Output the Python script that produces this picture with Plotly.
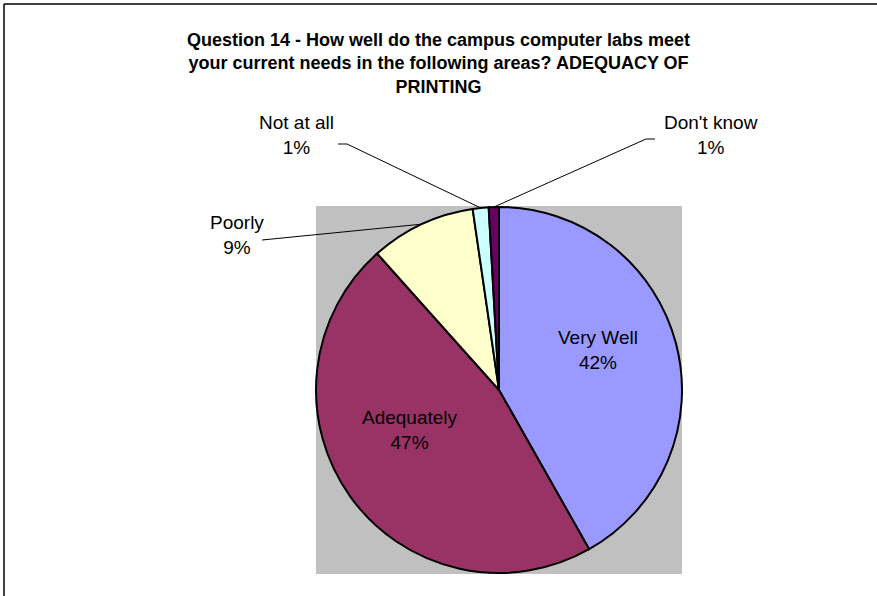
import math
import plotly.graph_objects as go

# survey answers (percent of respondents), clockwise from 12 o'clock
answers = ["Very Well", "Adequately", "Poorly", "Not at all", "Don't know"]
shares = [41.8, 46.6, 9.3, 1.4, 0.9]
colors = ["#9999FF", "#993366", "#FFFFCC", "#CCFFFF", "#660066"]

title_lines = [
    "Question 14 - How well do the campus computer labs meet",
    "your current needs in the following areas? ADEQUACY OF",
    "PRINTING",
]

W, H = 877, 596
FONT = "Liberation Sans, Arial, sans-serif"

# plot area (pixels)
px0, px1, py0, py1 = 316, 682, 206, 574


def fx(x):
    return x / W


def fy(y):
    return 1 - y / H


fig = go.Figure(go.Pie(
    labels=answers,
    values=shares,
    sort=False,
    direction="clockwise",
    rotation=0,
    marker=dict(colors=colors, line=dict(color="black", width=2)),
    textinfo="none",
    domain=dict(x=[fx(px0), fx(px1)], y=[fy(py1), fy(py0)]),
    showlegend=False,
    hoverinfo="label+percent",
))

# label placement (pixels): text centre, and for the small slices a leader line start + elbow
label_pos = {
    "Very Well": dict(text=(598, 350)),
    "Adequately": dict(text=(410, 430)),
    "Poorly": dict(text=(237, 235), start=(262, 240), elbow=(262, 240)),
    "Not at all": dict(text=(296, 135), start=(338, 144), elbow=(347, 144)),
    "Don't know": dict(text=(711, 135), start=(655, 139), elbow=(646, 139)),
}

cx, cy = (px0 + px1) / 2, (py0 + py1) / 2
r = min(px1 - px0, py1 - py0) / 2
total = sum(shares)

shapes = [
    # grey plot area
    dict(type="rect", xref="paper", yref="paper", x0=fx(px0), x1=fx(px1),
         y0=fy(py1), y1=fy(py0), fillcolor="#C0C0C0", line=dict(width=0), layer="below"),
    # chart border (top and left)
    dict(type="line", xref="paper", yref="paper", x0=fx(4), x1=1, y0=fy(4), y1=fy(4),
         line=dict(color="black", width=1.5)),
    dict(type="line", xref="paper", yref="paper", x0=fx(4), x1=fx(4), y0=fy(4), y1=0,
         line=dict(color="black", width=1.5)),
]
annotations = []

cum = 0
for name, v in zip(answers, shares):
    mid = (cum + v / 2) / total * 2 * math.pi
    cum += v
    o = label_pos[name]
    if "start" in o:
        ex, ey = cx + r * math.sin(mid), cy - r * math.cos(mid)
        shapes.append(dict(type="line", xref="paper", yref="paper",
                           x0=fx(o["start"][0]), y0=fy(o["start"][1]),
                           x1=fx(o["elbow"][0]), y1=fy(o["elbow"][1]),
                           line=dict(color="black", width=1)))
        shapes.append(dict(type="line", xref="paper", yref="paper",
                           x0=fx(o["elbow"][0]), y0=fy(o["elbow"][1]),
                           x1=fx(ex), y1=fy(ey),
                           line=dict(color="black", width=1)))
    annotations.append(dict(
        x=fx(o["text"][0]), y=fy(o["text"][1]), xref="paper", yref="paper",
        text=f"{name}<br>{v / total:.0%}", showarrow=False,
        xanchor="center", yanchor="middle", align="center",
        font=dict(family=FONT, size=19, color="black"),
    ))

annotations.append(dict(
    x=fx(438), y=fy(64), xref="paper", yref="paper",
    text="<b>" + "<br>".join(title_lines) + "</b>", showarrow=False,
    xanchor="center", yanchor="middle", align="center",
    font=dict(family=FONT, size=18, color="black"),
))

fig.update_layout(
    width=W, height=H,
    margin=dict(l=0, r=0, t=0, b=0),
    paper_bgcolor="white",
    plot_bgcolor="white",
    shapes=shapes,
    annotations=annotations,
)

fig.write_html("out.html", config={"displayModeBar": False},
               post_script="document.body.style.margin = '0';")
